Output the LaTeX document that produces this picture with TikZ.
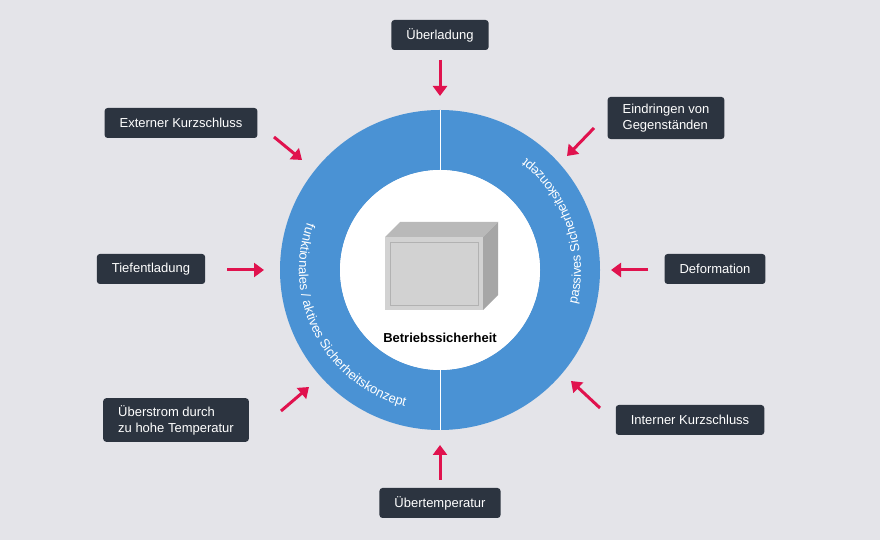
\documentclass[tikz,border=0pt]{standalone}
\usepackage{fontspec}
\setmainfont{Liberation Sans}
\usetikzlibrary{positioning,decorations.text,arrows.meta}
\definecolor{bggrey}{HTML}{E4E4E9}
\definecolor{ringblue}{HTML}{4A92D4}
\definecolor{boxdark}{HTML}{2C3440}
\definecolor{arrowred}{HTML}{E0124E}
\tikzset{
  cause/.style={fill=boxdark,text=white,rounded corners=3pt,inner xsep=15pt,
    inner ysep=7pt,minimum height=30pt,font=\fontsize{13}{16}\selectfont,align=left},
  push/.style={draw=arrowred,line width=3pt,-{Triangle[length=10pt,width=14pt]}},
  ringtext/.style={decorate,decoration={text along path,text color=white,
    text={#1},text align=center}}
}
\begin{document}
\begin{tikzpicture}[x=1pt,y=1pt]
  \useasboundingbox[fill=bggrey] (0,0) rectangle (880,540);
  % ring
  \fill[ringblue,even odd rule] (440,270) circle[radius=160] (440,270) circle[radius=100];
  \draw[white,line width=1pt] (440,430) -- (440,370);
  \draw[white,line width=1pt] (440,170) -- (440,110);
  \fill[white] (440,270) circle[radius=100];
  % ring labels
  \begin{scope}[shift={(440,270)}]
    \path[ringtext={|\fontsize{13}{15}\selectfont|funktionales / aktives Sicherheitskonzept}]
      (-242:141) arc[start angle=-242,end angle=-62,radius=141];
    \path[ringtext={|\fontsize{13}{15}\selectfont|passives Sicherheitskonzept}]
      (-28:141) arc[start angle=-28,end angle=66,radius=141];
  \end{scope}
  % battery
  \fill[gray!55] (385,303) -- (400,318) -- (498,318) -- (483,303) -- cycle;
  \fill[gray!70] (483,303) -- (498,318) -- (498,245) -- (483,230) -- cycle;
  \fill[gray!35] (385,303) rectangle (483,230);
  \draw[gray!60,line width=.5pt] (390,298) rectangle (478,235);
  \node[font=\bfseries\fontsize{13}{15}\selectfont] (safe) at (440,202) {Betriebssicherheit};
  % causes
  \node[cause] (over) at (440,505) {Überladung};
  \node[cause] (extk) at (181,417) {Externer Kurzschluss};
  \node[cause] (intr) at (666,422) {Eindringen von\\Gegenständen};
  \node[cause] (tief) at (151,271) {Tiefentladung};
  \node[cause] (defo) at (715,271) {Deformation};
  \node[cause] (strom) at (176,120) {Überstrom durch\\zu hohe Temperatur};
  \node[cause] (intk) at (690,120) {Interner Kurzschluss};
  \node[cause] (temp) at (440,37) {Übertemperatur};
  \coordinate (c1) at (440,444);
  \coordinate (c2) at (302,380);
  \coordinate (c3) at (567,384);
  \coordinate (c4) at (264,270);
  \coordinate (c5) at (611,270);
  \coordinate (c6) at (309,153);
  \coordinate (c7) at (571,159);
  \coordinate (c8) at (440,95);
  \draw[push] (440,480) -- (c1);
  \draw[push] (274,403) -- (c2);
  \draw[push] (594,412) -- (c3);
  \draw[push] (227,270) -- (c4);
  \draw[push] (648,270) -- (c5);
  \draw[push] (281,129) -- (c6);
  \draw[push] (600,132) -- (c7);
  \draw[push] (440,60) -- (c8);
\end{tikzpicture}
\end{document}
